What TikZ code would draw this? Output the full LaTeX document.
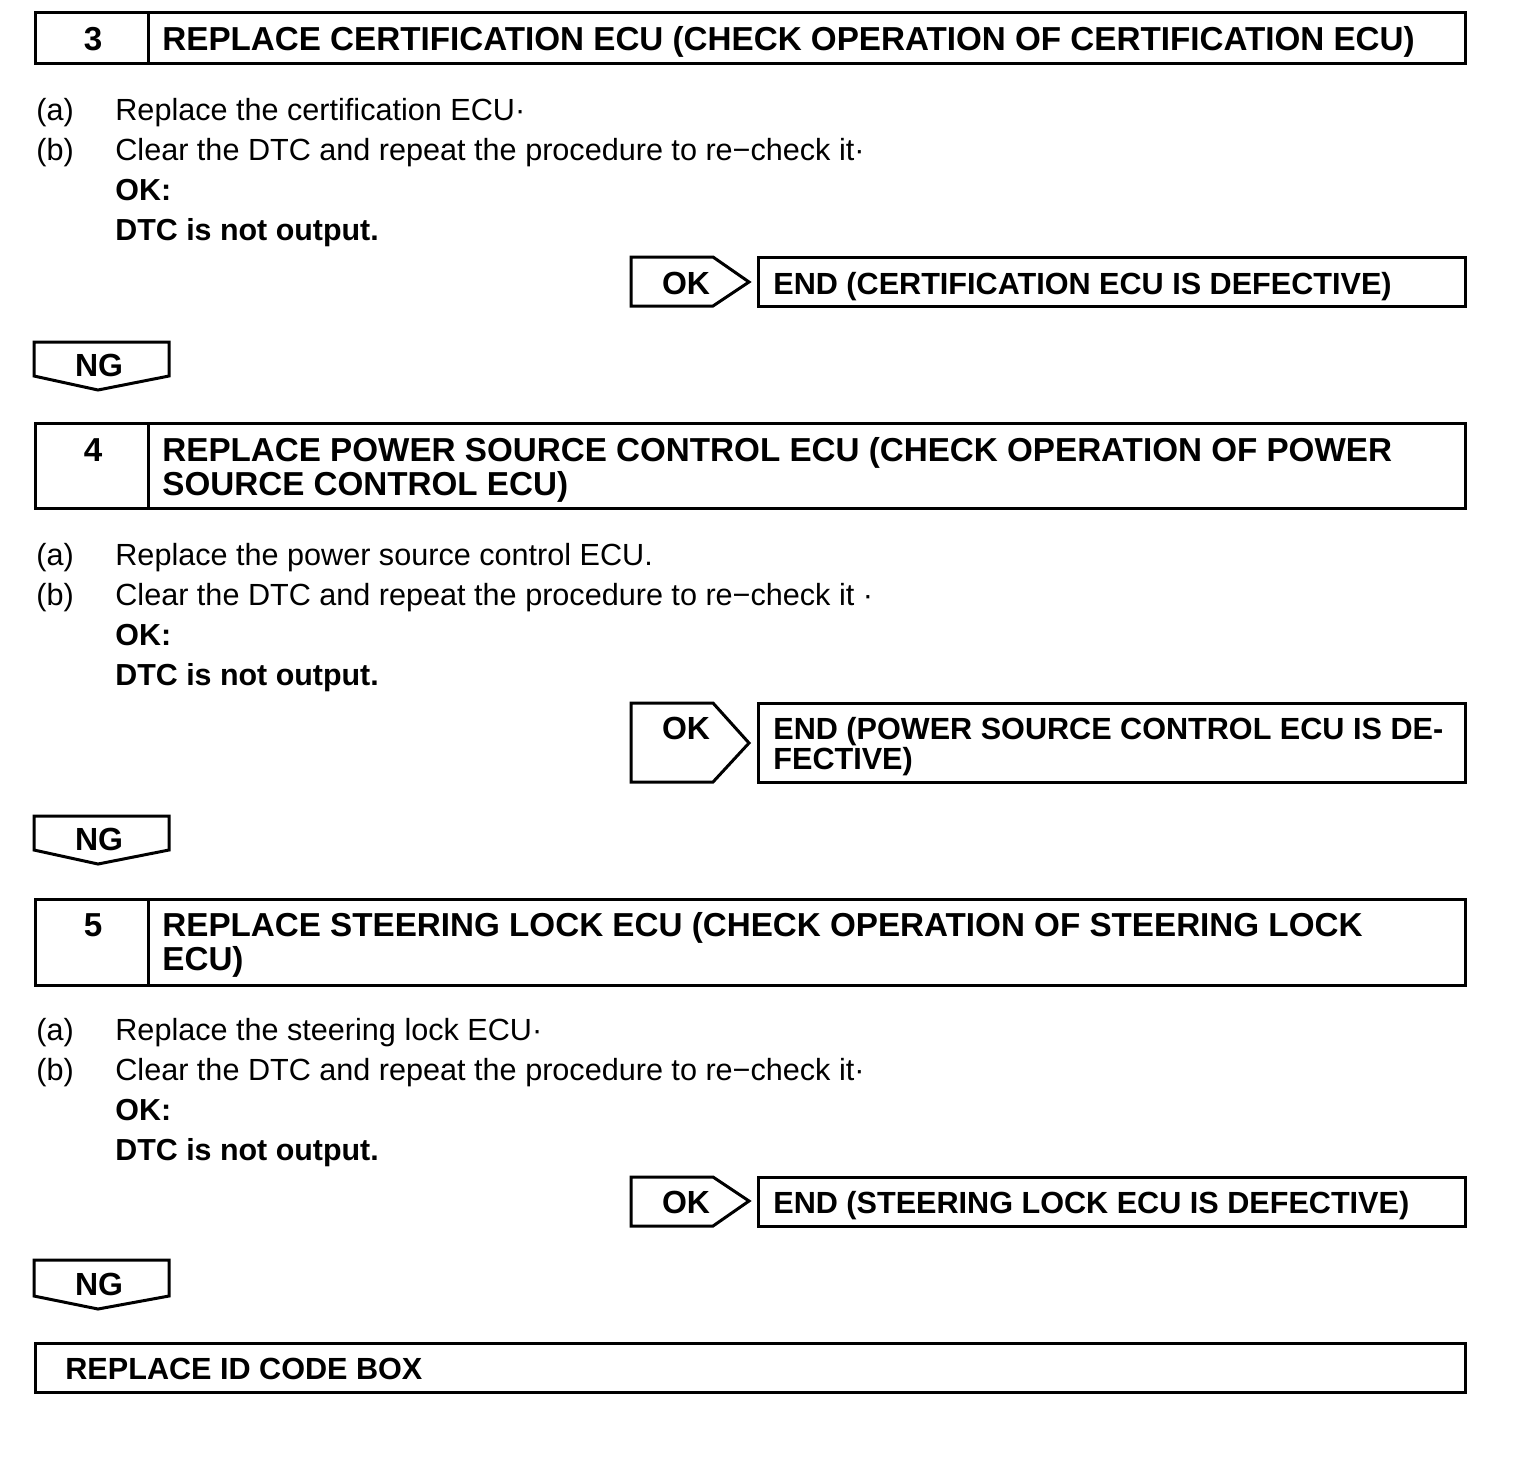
\documentclass[tikz,border=0pt]{standalone}
\usepackage{fontspec}
\setmainfont{Liberation Sans}
\usepackage{tikz}
\usetikzlibrary{positioning}

\begin{document}
\begin{tikzpicture}[x=0.5pt, y=-0.5pt,
		frame/.style={draw, line width=1.5pt, line join=miter},
		hdr/.style={anchor=base west, inner sep=0pt, align=left, font=\fontsize{16.6}{17}\selectfont\bfseries},
		num/.style={anchor=base, inner sep=0pt, font=\fontsize{16.6}{17}\selectfont\bfseries},
		body/.style={anchor=base west, inner sep=0pt, font=\fontsize{15.3}{20}\selectfont},
		bold/.style={body, font=\fontsize{15.2}{20}\selectfont\bfseries},
		endtxt/.style={anchor=base west, inner sep=0pt, align=left, font=\fontsize{15.3}{15}\selectfont\bfseries},
		tag/.style={anchor=base, inner sep=0pt, font=\fontsize{16}{16}\selectfont\bfseries}]
	\useasboundingbox[fill=white] (0,0) rectangle (1536,1464);

	% step 3
	\draw[frame] (35,12) rectangle (1465,63);
	\draw[frame] (148,12) -- (148,63);
	\node[num] (n3) at (93,50) {3};
	\node[hdr] (h3) at (162,50) {REPLACE CERTIFICATION ECU (CHECK OPERATION OF CERTIFICATION ECU)};
	\node[body] (a3) at (36,120) {(a)};
	\node[body] (ta3) at (115,120) {Replace the certification ECU·};
	\node[body] (b3) at (36,160) {(b)};
	\node[body] (tb3) at (115,160) {Clear the DTC and repeat the procedure to re−check it·};
	\node[bold] (ok3) at (115,200) {OK:};
	\node[bold] (dtc3) at (115,240) {DTC is not output.};
	\draw[frame] (631,257) -- (713,257) -- (749,282) -- (713,306) -- (631,306) -- cycle;
	\node[tag] (okt3) at (686,294) {OK};
	\draw[frame] (758,257) rectangle (1465,306);
	\node[endtxt] (end3) at (773,294) {END (CERTIFICATION ECU IS DEFECTIVE)};
	\draw[frame] (34,342) -- (169,342) -- (169,376) -- (98,390) -- (34,376) -- cycle;
	\node[tag] (ng3) at (99,376) {NG};

	% step 4
	\draw[frame] (35,423) rectangle (1465,508);
	\draw[frame] (148,423) -- (148,508);
	\node[num] (n4) at (93,461) {4};
	\node[hdr] (h4) at (162,495) {REPLACE POWER SOURCE CONTROL ECU (CHECK OPERATION OF POWER\\SOURCE CONTROL ECU)};
	\node[body] (a4) at (36,565) {(a)};
	\node[body] (ta4) at (115,565) {Replace the power source control ECU.};
	\node[body] (b4) at (36,605) {(b)};
	\node[body] (tb4) at (115,605) {Clear the DTC and repeat the procedure to re−check it ·};
	\node[bold] (ok4) at (115,645) {OK:};
	\node[bold] (dtc4) at (115,685) {DTC is not output.};
	\draw[frame] (631,703) -- (713,703) -- (749,743) -- (713,782) -- (631,782) -- cycle;
	\node[tag] (okt4) at (686,739) {OK};
	\draw[frame] (758,703) rectangle (1465,782);
	\node[endtxt] (end4) at (773,769) {END (POWER SOURCE CONTROL ECU IS DE-\\FECTIVE)};
	\draw[frame] (34,816) -- (169,816) -- (169,850) -- (98,864) -- (34,850) -- cycle;
	\node[tag] (ng4) at (99,850) {NG};

	% step 5
	\draw[frame] (35,899) rectangle (1465,985);
	\draw[frame] (148,899) -- (148,985);
	\node[num] (n5) at (93,936) {5};
	\node[hdr] (h5) at (162,970) {REPLACE STEERING LOCK ECU (CHECK OPERATION OF STEERING LOCK\\ECU)};
	\node[body] (a5) at (36,1040) {(a)};
	\node[body] (ta5) at (115,1040) {Replace the steering lock ECU·};
	\node[body] (b5) at (36,1080) {(b)};
	\node[body] (tb5) at (115,1080) {Clear the DTC and repeat the procedure to re−check it·};
	\node[bold] (ok5) at (115,1120) {OK:};
	\node[bold] (dtc5) at (115,1160) {DTC is not output.};
	\draw[frame] (631,1177) -- (713,1177) -- (749,1201) -- (713,1226) -- (631,1226) -- cycle;
	\node[tag] (okt5) at (686,1213) {OK};
	\draw[frame] (758,1177) rectangle (1465,1226);
	\node[endtxt] (end5) at (773,1213) {END (STEERING LOCK ECU IS DEFECTIVE)};
	\draw[frame] (34,1260) -- (169,1260) -- (169,1296) -- (98,1309) -- (34,1296) -- cycle;
	\node[tag] (ng5) at (99,1295) {NG};

	% last step
	\draw[frame] (35,1343) rectangle (1465,1392);
	\node[endtxt] (idbox) at (65,1379) {REPLACE ID CODE BOX};
\end{tikzpicture}
\end{document}
